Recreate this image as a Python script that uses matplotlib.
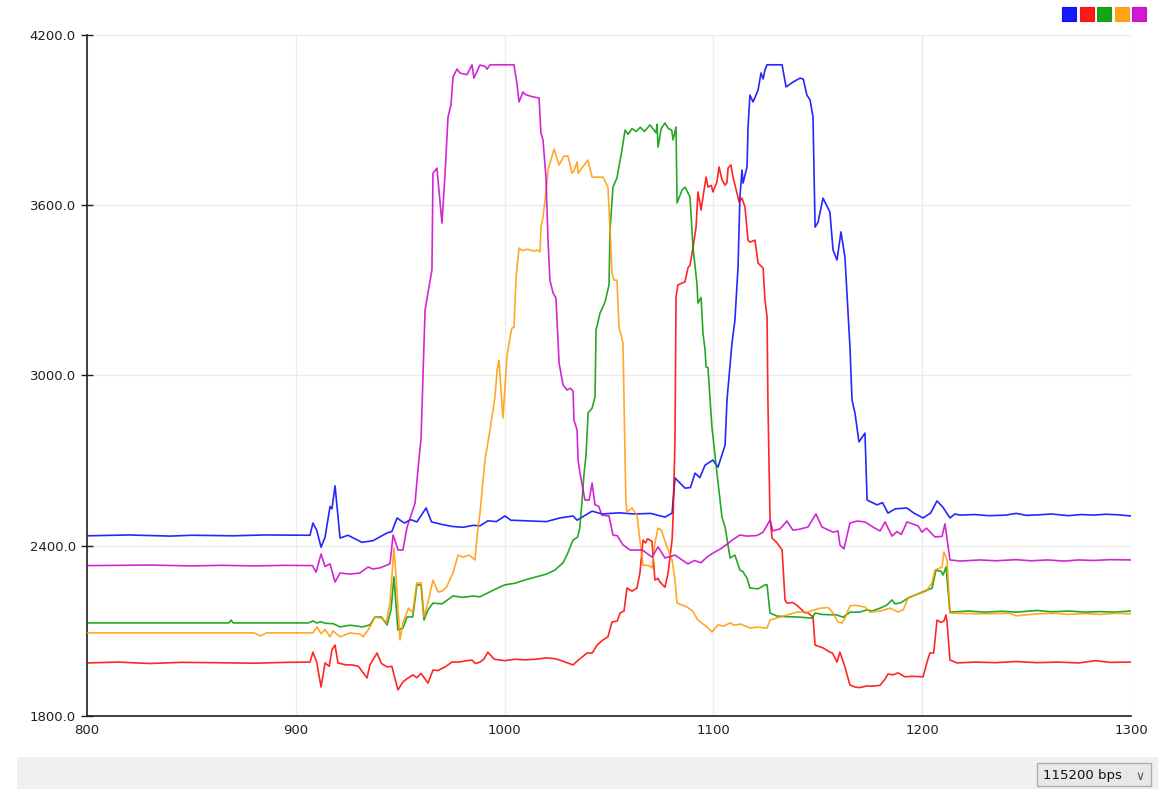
import matplotlib
matplotlib.use("Agg")
import matplotlib.pyplot as plt
from matplotlib.patches import Rectangle

# ---- data ----
blue_x = [800, 820, 840, 850, 860, 870, 885, 906.8, 908.2, 910, 912.1, 914, 916.4, 917.3, 918.8, 921.2, 925, 931.7, 937, 943.7, 946, 948.5, 950, 952, 955, 958, 962.4, 965, 970, 975, 980, 985, 988.2, 992, 996, 1000.2, 1003, 1010, 1020, 1026.5, 1032.8, 1034.7, 1041.9, 1046.6, 1055, 1062, 1070, 1076.8, 1080.2, 1081.6, 1086.4, 1089, 1091.2, 1093.5, 1096, 1099.8, 1102.2, 1105.6, 1106.5, 1108.9, 1110.3, 1111.8, 1112.7, 1113.7, 1114.2, 1116.1, 1116.6, 1117.5, 1119, 1121.4, 1122.8, 1123.8, 1124.7, 1125.7, 1132.9, 1134.8, 1138.1, 1141.5, 1143, 1144.8, 1146.3, 1147.7, 1148.7, 1150.1, 1152.5, 1155.8, 1157.3, 1159.2, 1161.1, 1163, 1165.4, 1166.4, 1167.8, 1169.7, 1172.6, 1173.6, 1178.4, 1181, 1183.6, 1187, 1192.7, 1196, 1200.4, 1204, 1207.1, 1210, 1213.3, 1215.7, 1218.1, 1225, 1232, 1240, 1245, 1250, 1256, 1262, 1270, 1276, 1282, 1288, 1294, 1300]
blue_y = [2435, 2438, 2434, 2437, 2436, 2435, 2438, 2437, 2480, 2455, 2395, 2430, 2538, 2530, 2611, 2427, 2437, 2412, 2418, 2445, 2450, 2498, 2490, 2480, 2492, 2484, 2533, 2484, 2475, 2468, 2465, 2472, 2470, 2488, 2485, 2505, 2490, 2488, 2485, 2498, 2505, 2490, 2522, 2512, 2516, 2512, 2514, 2501, 2515, 2639, 2603, 2605, 2656, 2640, 2684, 2702, 2677, 2755, 2913, 3114, 3195, 3382, 3629, 3724, 3678, 3735, 3876, 3988, 3964, 4006, 4066, 4045, 4077, 4095, 4095, 4017, 4034, 4048, 4045, 3988, 3971, 3911, 3523, 3540, 3625, 3576, 3442, 3407, 3506, 3417, 3100, 2913, 2868, 2766, 2797, 2561, 2544, 2552, 2515, 2530, 2533, 2515, 2498, 2515, 2558, 2535, 2498, 2512, 2508, 2510, 2506, 2508, 2514, 2507, 2509, 2512, 2506, 2510, 2508, 2511, 2509, 2505]

red_x = [800, 815, 830, 845, 860, 880, 895, 906.8, 908.2, 910, 912.1, 914, 916, 917.3, 918.8, 920.2, 924, 926.9, 930, 934.1, 935.5, 938.9, 941, 943.7, 946, 948.9, 951.3, 953, 956.1, 958, 960, 963.3, 965.7, 968, 971.5, 974.8, 978, 982, 984.4, 986, 988.2, 990, 992, 995, 1000, 1005, 1010, 1015, 1020, 1024, 1026.5, 1029, 1032.8, 1035, 1039.5, 1042, 1044.3, 1047.1, 1049.5, 1051.4, 1054, 1055.3, 1057.2, 1058.6, 1061, 1063.4, 1064.8, 1066.3, 1067.5, 1068.5, 1070.6, 1072, 1073.5, 1074.4, 1076.8, 1078.3, 1080.2, 1080.7, 1081.6, 1082.1, 1083, 1085, 1086.4, 1087.8, 1088.8, 1090.2, 1091.7, 1092.6, 1094.1, 1095, 1096.5, 1097.4, 1099, 1099.8, 1101.7, 1102.7, 1104.1, 1105.6, 1106.5, 1107, 1108.4, 1109.4, 1111.3, 1112.3, 1113.7, 1115.1, 1116.6, 1117.5, 1119.9, 1121.4, 1123.8, 1124.7, 1125.7, 1126.1, 1127.1, 1128.1, 1130.5, 1132.9, 1134.3, 1135.2, 1138, 1140, 1141.5, 1143.9, 1145, 1147.7, 1148.7, 1152.5, 1155.8, 1157, 1159.2, 1160.6, 1163, 1165.4, 1167.8, 1170, 1173.6, 1176, 1179.8, 1182.2, 1183.6, 1186, 1188.4, 1191.8, 1195, 1200.4, 1202.3, 1203.7, 1205.5, 1207.1, 1209, 1210.4, 1211.4, 1211.9, 1213.3, 1216.7, 1225, 1235, 1245, 1255, 1265, 1275, 1283, 1290, 1300]
red_y = [1987, 1990, 1985, 1989, 1988, 1986, 1989, 1990, 2025, 1990, 1902, 1987, 1975, 2033, 2050, 1987, 1980, 1980, 1975, 1934, 1980, 2022, 1985, 1973, 1975, 1892, 1920, 1930, 1945, 1935, 1950, 1916, 1962, 1960, 1973, 1990, 1990, 1995, 1997, 1985, 1990, 2000, 2025, 2000, 1995, 2000, 1998, 2000, 2005, 2002, 1997, 1990, 1980, 1995, 2022, 2022, 2050, 2068, 2079, 2131, 2135, 2163, 2170, 2251, 2240, 2251, 2304, 2420, 2410, 2425, 2415, 2279, 2285, 2272, 2254, 2304, 2420, 2500, 2773, 3277, 3319, 3326, 3330, 3379, 3389, 3449, 3523, 3647, 3583, 3629, 3699, 3664, 3670, 3647, 3682, 3735, 3690, 3671, 3680, 3731, 3742, 3699, 3643, 3611, 3625, 3594, 3477, 3470, 3477, 3396, 3379, 3266, 3206, 2913, 2501, 2427, 2410, 2385, 2209, 2198, 2200, 2190, 2180, 2163, 2165, 2149, 2050, 2040, 2025, 2022, 1990, 2025, 1973, 1909, 1902, 1900, 1906, 1905, 1908, 1930, 1948, 1945, 1952, 1938, 1940, 1938, 1990, 2022, 2022, 2138, 2130, 2135, 2156, 2130, 1997, 1987, 1990, 1988, 1992, 1988, 1990, 1987, 1995, 1989, 1990]

green_x = [800, 850, 868, 869, 870, 906, 908.2, 910, 912, 914, 918, 921.2, 926, 932, 935.5, 937.9, 941, 943.7, 945.6, 947, 948.9, 951.3, 953.3, 956, 958, 960, 961.4, 963.3, 965.7, 970, 975.3, 980, 985, 988.2, 995, 1000, 1005, 1010, 1015, 1020, 1024, 1028, 1030, 1032.8, 1035, 1036, 1037, 1038, 1039, 1040, 1041.9, 1043.3, 1043.8, 1045.7, 1048.1, 1050, 1050.5, 1051.9, 1053.8, 1056.2, 1056.7, 1057.7, 1059.1, 1061, 1063, 1065, 1067, 1069.6, 1071, 1072.5, 1073, 1073.5, 1075, 1076.8, 1078.5, 1080, 1080.7, 1082.1, 1082.6, 1085, 1086.4, 1087.4, 1088.8, 1090.2, 1092.1, 1092.6, 1094.1, 1095, 1096, 1096.5, 1097.4, 1099.3, 1101.7, 1104.1, 1105.6, 1108, 1110.3, 1112.7, 1114, 1116.1, 1117.5, 1121.4, 1124.7, 1125.7, 1127.1, 1130.5, 1135, 1140, 1147.2, 1148.7, 1152, 1159.2, 1162.1, 1165.4, 1170, 1173.6, 1176, 1179.8, 1183.1, 1185.5, 1187, 1190, 1193.2, 1198.9, 1202.3, 1204.7, 1206.6, 1209, 1210, 1211.4, 1213.3, 1222, 1230, 1238, 1245, 1255, 1262, 1270, 1278, 1285, 1292, 1300]
green_y = [2128, 2128, 2128, 2138, 2128, 2128, 2135, 2128, 2132, 2127, 2125, 2114, 2120, 2114, 2121, 2149, 2149, 2121, 2174, 2290, 2103, 2110, 2149, 2149, 2262, 2262, 2138, 2174, 2198, 2195, 2223, 2218, 2223, 2220, 2245, 2262, 2268, 2280, 2290, 2300, 2314, 2340, 2370, 2420, 2431, 2462, 2550, 2650, 2720, 2868, 2885, 2924, 3160, 3220, 3259, 3319, 3513, 3664, 3696, 3795, 3819, 3865, 3850, 3870, 3860, 3875, 3860, 3883, 3870, 3855, 3885, 3805, 3870, 3890, 3870, 3865, 3830, 3876, 3608, 3654, 3664, 3650, 3629, 3453, 3326, 3255, 3275, 3150, 3090, 3030, 3028, 2818, 2656, 2501, 2466, 2357, 2367, 2314, 2310, 2286, 2251, 2248, 2262, 2262, 2163, 2152, 2150, 2149, 2145, 2163, 2158, 2156, 2148, 2166, 2166, 2174, 2170, 2180, 2191, 2209, 2195, 2200, 2216, 2233, 2244, 2250, 2314, 2310, 2297, 2325, 2166, 2170, 2166, 2169, 2166, 2172, 2167, 2170, 2166, 2168, 2166, 2170]

orange_x = [800, 850, 880, 883, 886, 908.2, 910.2, 912.1, 914, 916.4, 917.8, 921.2, 926, 931, 932.2, 934.6, 936, 937.9, 941, 943.2, 945.1, 947, 948, 949.9, 951.3, 954, 956, 958, 960, 961.4, 963.3, 965.7, 968.1, 970, 972, 975.3, 977.7, 980, 983, 985.8, 986.8, 988.2, 990.6, 993, 995.4, 996.4, 997.3, 999.2, 1001.1, 1002.6, 1003.5, 1004.5, 1005.5, 1006.9, 1008.3, 1011, 1014, 1015.5, 1017, 1017.4, 1018.4, 1019.8, 1020.8, 1023.7, 1026.1, 1028.4, 1030.4, 1032.3, 1033.2, 1034.7, 1035.2, 1039.9, 1041.9, 1047.1, 1049.5, 1050.5, 1051.4, 1052.4, 1053.8, 1054.8, 1056.7, 1057.7, 1058.1, 1058.6, 1061, 1063.4, 1064.8, 1066.3, 1069, 1070.6, 1072, 1073.5, 1075, 1077.8, 1080.2, 1081.6, 1082.6, 1087.4, 1090, 1092.6, 1096.9, 1099.3, 1102.2, 1105, 1108, 1110, 1113, 1117.5, 1121, 1125.7, 1127.1, 1131.9, 1140, 1145, 1151.1, 1155, 1157.3, 1159.7, 1161.6, 1163, 1165.4, 1168, 1172.6, 1175, 1180, 1184.6, 1187, 1188.4, 1191, 1193.2, 1198.9, 1202, 1204.7, 1206.1, 1209.5, 1210.4, 1211.9, 1213.3, 1222, 1230, 1242, 1245, 1255, 1264, 1270, 1278, 1285, 1293, 1300]
orange_y = [2093, 2093, 2093, 2082, 2093, 2093, 2114, 2090, 2105, 2079, 2100, 2079, 2093, 2088, 2079, 2103, 2121, 2149, 2145, 2128, 2198, 2392, 2290, 2068, 2128, 2180, 2165, 2269, 2269, 2149, 2200, 2279, 2237, 2240, 2252, 2304, 2367, 2360, 2367, 2350, 2431, 2515, 2702, 2808, 2924, 3019, 3054, 2850, 3065, 3135, 3167, 3170, 3347, 3449, 3440, 3445, 3438, 3442, 3436, 3523, 3558, 3643, 3724, 3798, 3742, 3773, 3773, 3713, 3720, 3752, 3713, 3759, 3699, 3699, 3664, 3513, 3361, 3336, 3336, 3171, 3114, 2702, 2560, 2519, 2533, 2508, 2420, 2332, 2330, 2322, 2410, 2462, 2455, 2396, 2350, 2279, 2198, 2184, 2170, 2138, 2114, 2096, 2121, 2117, 2128, 2120, 2124, 2110, 2113, 2110, 2138, 2149, 2166, 2166, 2180, 2182, 2163, 2131, 2128, 2145, 2188, 2190, 2184, 2166, 2170, 2180, 2172, 2166, 2175, 2216, 2233, 2240, 2269, 2314, 2325, 2378, 2350, 2163, 2161, 2160, 2162, 2153, 2160, 2162, 2158, 2161, 2158, 2162, 2160]

magenta_x = [800, 830, 850, 865, 880, 895, 908, 909.7, 912.1, 914, 916.4, 918.8, 921.2, 926, 930.7, 934.6, 937, 940.3, 945.1, 946.6, 949, 951.3, 953.3, 957.1, 958.5, 960, 961.9, 963.5, 965.2, 965.7, 967.6, 970, 971.5, 972.9, 974.3, 975.3, 977.2, 978.6, 982, 984.4, 985.3, 988.2, 990.5, 991.6, 993, 1004.5, 1005.9, 1006.9, 1008.8, 1010, 1013.6, 1016.5, 1017.4, 1018.4, 1019.8, 1020.8, 1021.7, 1023.2, 1024.6, 1026.1, 1028, 1029.9, 1031.5, 1032.8, 1033.2, 1034.7, 1035.2, 1036.1, 1038.5, 1040.5, 1041.9, 1043.3, 1045, 1046.6, 1050, 1051.9, 1054, 1056.7, 1060.1, 1066, 1070.6, 1073.5, 1076.8, 1081.6, 1087.8, 1091, 1094, 1096.9, 1099.8, 1104.1, 1109, 1112.7, 1116, 1120.9, 1123.8, 1127.1, 1128.5, 1132, 1135.2, 1138.1, 1141, 1145.3, 1149.1, 1152, 1157.3, 1159.7, 1160.6, 1162.5, 1165.4, 1168.8, 1172.6, 1176.4, 1179.8, 1182.2, 1185.5, 1188, 1190, 1192.7, 1198, 1199.9, 1202, 1206.1, 1209.5, 1210.9, 1213.3, 1218.1, 1228, 1235, 1245, 1252, 1260, 1268, 1275, 1282, 1290, 1300]
magenta_y = [2330, 2332, 2329, 2331, 2329, 2331, 2330, 2307, 2371, 2327, 2336, 2272, 2304, 2300, 2304, 2325, 2318, 2322, 2336, 2438, 2385, 2385, 2466, 2550, 2667, 2780, 3230, 3300, 3372, 3713, 3731, 3537, 3713, 3911, 3953, 4052, 4080, 4066, 4060, 4095, 4048, 4094, 4090, 4080, 4095, 4095, 4030, 3964, 3999, 3990, 3982, 3978, 3854, 3830, 3699, 3477, 3336, 3291, 3273, 3044, 2966, 2949, 2955, 2945, 2843, 2808, 2702, 2656, 2561, 2561, 2621, 2544, 2540, 2508, 2505, 2438, 2435, 2403, 2385, 2385, 2360, 2396, 2357, 2367, 2336, 2348, 2340, 2360, 2374, 2392, 2420, 2438, 2434, 2436, 2448, 2490, 2452, 2460, 2487, 2455, 2458, 2466, 2512, 2466, 2448, 2452, 2403, 2389, 2480, 2487, 2484, 2466, 2452, 2484, 2434, 2450, 2440, 2484, 2470, 2448, 2462, 2431, 2433, 2477, 2350, 2346, 2350, 2347, 2351, 2347, 2350, 2346, 2350, 2348, 2351, 2350]

x_ticks = [800, 900, 1000, 1100, 1200, 1300]
y_ticks = [1800, 2400, 3000, 3600, 4200]
y_labels = ["1800.0", "2400.0", "3000.0", "3600.0", "4200.0"]
series_colors = ["#0000ff", "#ff0000", "#009900", "#ff9900", "#cc00cc"]
baud_label = "115200 bps"

# ---- figure ----
W, H = 1168, 789
fig = plt.figure(figsize=(W / 100, H / 100), dpi=100)
fig.patch.set_facecolor("white")

ax = fig.add_axes([87 / W, 1 - 716 / H, (1131 - 87) / W, (716 - 35) / H])
ax.set_xlim(800, 1300)
ax.set_ylim(1800, 4200)

series = [(blue_x, blue_y), (red_x, red_y), (green_x, green_y),
          (orange_x, orange_y), (magenta_x, magenta_y)]
for (xs, ys), c in zip(series, series_colors):
    n = min(len(xs), len(ys))
    ax.plot(xs[:n], ys[:n], color=c, lw=1.2, alpha=0.85,
            solid_joinstyle="round", zorder=3)

ax.set_xticks(x_ticks)
ax.set_xticklabels([str(v) for v in x_ticks])
ax.set_yticks(y_ticks)
ax.set_yticklabels(y_labels)
ax.grid(True, color="#ececec", lw=1.0, zorder=0)
for s in ["top", "right"]:
    ax.spines[s].set_visible(False)
for s in ["left", "bottom"]:
    ax.spines[s].set_color("#202020")
    ax.spines[s].set_linewidth(1.2)
ax.tick_params(axis="y", direction="inout", length=8, width=1, colors="#202020",
               labelsize=9.5, pad=4)
ax.tick_params(axis="x", direction="out", length=0, colors="#202020",
               labelsize=9.5, pad=6)
ax.set_axisbelow(True)

# legend squares at top right
for i, c in enumerate(series_colors):
    x0 = 1062 + i * 17.5
    fig.patches.append(Rectangle((x0 / W, 1 - 21 / H), 14 / W, 14 / H,
                                 transform=fig.transFigure, facecolor=c,
                                 edgecolor=c, alpha=0.9, lw=0.8))

# bottom status bar
fig.patches.append(Rectangle((17 / W, 0), (1158 - 17) / W, 32 / H,
                             transform=fig.transFigure, facecolor="#f0f0f0",
                             edgecolor="none", zorder=0))
fig.patches.append(Rectangle((1037 / W, 1 - 786 / H), (1151 - 1037) / W, 23 / H,
                             transform=fig.transFigure, facecolor="#e8e8e8",
                             edgecolor="#adadad", lw=1.0, zorder=1))
fig.text(1043 / W, 1 - 775 / H, baud_label, fontsize=9.5, va="center", ha="left",
         color="#111111")
fig.text(1140 / W, 1 - 776 / H, "\u2228", fontsize=9, va="center", ha="center",
         color="#555555")

fig.savefig("out.png", dpi=100, facecolor="white")
